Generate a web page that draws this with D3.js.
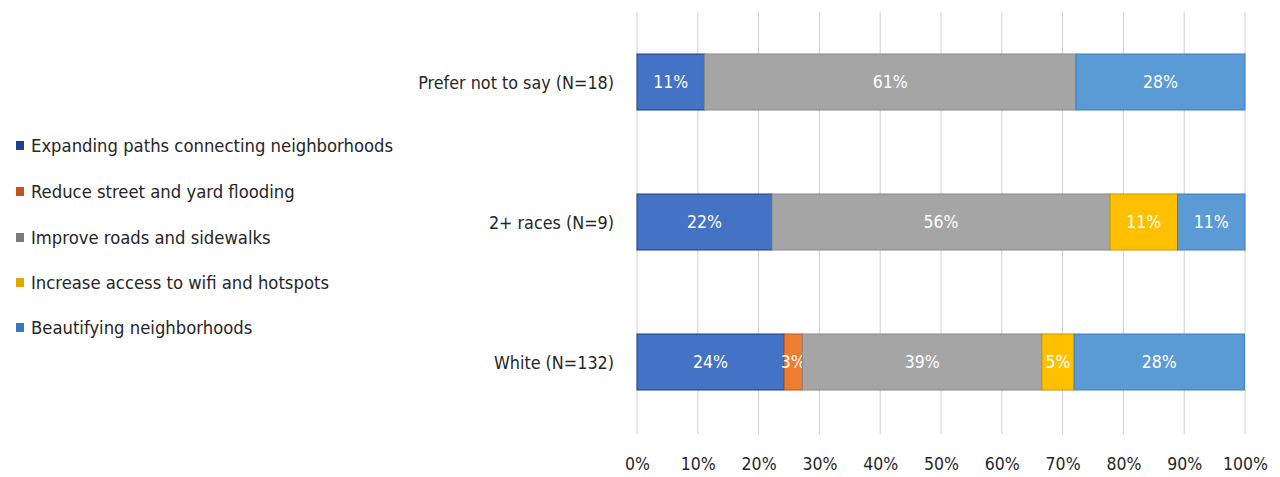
<!DOCTYPE html>
<html><head><meta charset="utf-8">
<script src="https://cdn.jsdelivr.net/npm/d3@7"></script>
<style>body{margin:0;background:#fff;} svg{display:block;}</style>
</head><body>
<script>
const categories = ["Prefer not to say (N=18)", "2+ races (N=9)", "White (N=132)"];
const seriesNames = ["Expanding paths connecting neighborhoods","Reduce street and yard flooding","Improve roads and sidewalks","Increase access to wifi and hotspots","Beautifying neighborhoods"];
const expanding = [11.1, 22.2, 24.2];
const flooding = [0, 0, 3.0];
const roads = [61.1, 55.6, 39.4];
const wifi = [0, 11.1, 5.3];
const beautify = [27.8, 11.1, 28.0];
const labelsExpanding = ["11%","22%","24%"];
const labelsFlooding = ["","","3%"];
const labelsRoads = ["61%","56%","39%"];
const labelsWifi = ["","11%","5%"];
const labelsBeautify = ["28%","11%","28%"];
const tickValues = [0,10,20,30,40,50,60,70,80,90,100];

const fills = ["#4472C4","#ED7D31","#A5A5A5","#FFC000","#5B9BD5"];
const strokes = ["#1F3D8A","#B8561A","#8A8A8A","#C89600","#3E7FBA"];
const legendFills = ["#203F94","#C4521A","#7A7A7A","#E0A800","#3579BD"];
const font = "'Liberation Sans Narrow','DejaVu Sans Condensed',sans-serif";

const series = [expanding, flooding, roads, wifi, beautify];
const seriesLabels = [labelsExpanding, labelsFlooding, labelsRoads, labelsWifi, labelsBeautify];

const W = 1280, H = 477;
const svg = d3.select("body").append("svg").attr("width", W).attr("height", H);

const x = d3.scaleLinear().domain([0,100]).range([637,1245]);
const y = d3.scaleBand().domain(categories).range([12,432]).paddingInner(0.6).paddingOuter(0.3);

// gridlines
svg.append("g").selectAll("line").data(tickValues).join("line")
  .attr("x1", d=>x(d)).attr("x2", d=>x(d)).attr("y1", 12).attr("y2", 434)
  .attr("stroke", "#D0D0D0").attr("stroke-width", 1);

// stacked data
const rows = categories.map((c,i)=>{
  let acc = 0;
  return series.map((s,k)=>{ const x0 = acc; acc += s[i]; return {cat:c, k, x0, x1:acc, v:s[i], label:seriesLabels[k][i]}; });
});

const g = svg.append("g");
rows.forEach(r=>{
  r.filter(d=>d.v>0).forEach(d=>{
    g.append("rect")
      .attr("x", x(d.x0)).attr("y", y(d.cat))
      .attr("width", x(d.x1)-x(d.x0)).attr("height", y.bandwidth())
      .attr("fill", fills[d.k]).attr("stroke", strokes[d.k]).attr("stroke-width", 1);
    if (d.label) {
      g.append("text")
        .attr("x", (x(d.x0)+x(d.x1))/2).attr("y", y(d.cat)+y.bandwidth()/2)
        .attr("text-anchor","middle").attr("dominant-baseline","central")
        .attr("fill","#fff").attr("font-family", font).attr("font-size", 17.5)
        .text(d.label);
    }
  });
});

// category labels
svg.append("g").selectAll("text").data(categories).join("text")
  .attr("x", 614).attr("y", d=>y(d)+y.bandwidth()/2)
  .attr("text-anchor","end").attr("dominant-baseline","central")
  .attr("font-family", font).attr("font-size", 17.8).attr("fill","#262626")
  .text(d=>d);

// x axis labels
const xAxis = d3.axisBottom(x).tickValues(tickValues).tickFormat(d=>d+"%").tickSize(0);
const ax = svg.append("g").attr("transform","translate(0,455)").call(xAxis);
ax.select(".domain").remove();
ax.selectAll("text").attr("font-family", font).attr("font-size", 17.5).attr("fill","#262626");

// legend
const legendY = [145,191,237,282,327];
const lg = svg.append("g");
seriesNames.forEach((n,i)=>{
  lg.append("rect").attr("x",16).attr("y",legendY[i]-4).attr("width",8).attr("height",9).attr("fill",legendFills[i]);
  lg.append("text").attr("x",31).attr("y",legendY[i]).attr("dominant-baseline","central")
    .attr("font-family", font).attr("font-size", 18.3).attr("fill","#262626").text(n);
});
</script>
</body></html>
